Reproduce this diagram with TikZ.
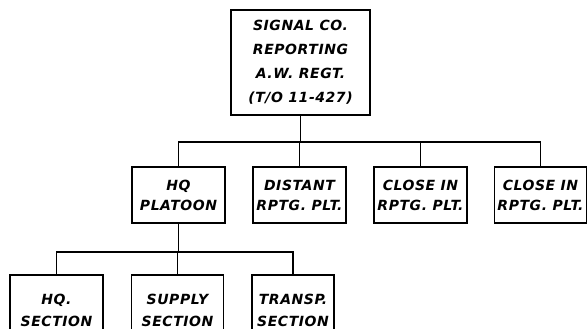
\documentclass[tikz,border=0pt]{standalone}
\usepackage{fontspec}
\newfontfamily\lettering[LetterSpace=4]{DejaVu Sans}
\usetikzlibrary{positioning}

\begin{document}
\begin{tikzpicture}[x=1pt,y=-1pt,
            unit/.style={draw, line width=1.1pt, align=center, inner sep=0pt,
            font=\lettering\bfseries\itshape\fontsize{14}{20}\selectfont},
            link/.style={line width=1.1pt}]
            \useasboundingbox (0,0) rectangle (587,329);
            \clip (0,0) rectangle (587,329);
            % company
            \node[unit, minimum width=139pt, minimum height=105pt,
            font=\lettering\bfseries\itshape\fontsize{14}{24}\selectfont]
            (coy) at (300.5,62.5) {SIGNAL CO.\\REPORTING\\A.W. REGT.\\(T/O 11-427)};
            % platoons
            \node[unit, minimum width=93pt, minimum height=56pt] (hqplt) at (178.5,195) {HQ\\PLATOON};
            \node[unit, minimum width=93pt, minimum height=56pt] (distplt) at (299.5,195) {DISTANT\\RPTG. PLT.};
            \node[unit, minimum width=93pt, minimum height=56pt] (closeplta) at (420.5,195) {CLOSE IN\\RPTG. PLT.};
            \node[unit, minimum width=92pt, minimum height=56pt] (closepltb) at (540.5,195) {CLOSE IN\\RPTG. PLT.};
            % sections
            \node[unit, minimum width=93pt, minimum height=70pt,
            font=\lettering\bfseries\itshape\fontsize{14}{22}\selectfont]
            (hqsec) at (56.5,310) {HQ.\\SECTION};
            \node[unit, minimum width=92pt, minimum height=70pt,
            font=\lettering\bfseries\itshape\fontsize{14}{22}\selectfont]
            (supsec) at (177.5,310) {SUPPLY\\SECTION};
            \node[unit, minimum width=82pt, minimum height=70pt,
            font=\lettering\bfseries\itshape\fontsize{14}{22}\selectfont]
            (trsec) at (293,310) {TRANSP.\\SECTION};
            % connectors
            \coordinate (busa) at (coy.south |- 0,142);
            \coordinate (busb) at (hqplt.south |- 0,252);
            \draw[link] (coy.south) -- (busa);
            \foreach \n in {hqplt,distplt,closeplta,closepltb}
            \draw[link] (busa) -| (\n.north);
            \draw[link] (hqplt.south) -- (busb);
            \foreach \n in {hqsec,supsec,trsec}
            \draw[link] (busb) -| (\n.north);
        \end{tikzpicture}
\end{document}
